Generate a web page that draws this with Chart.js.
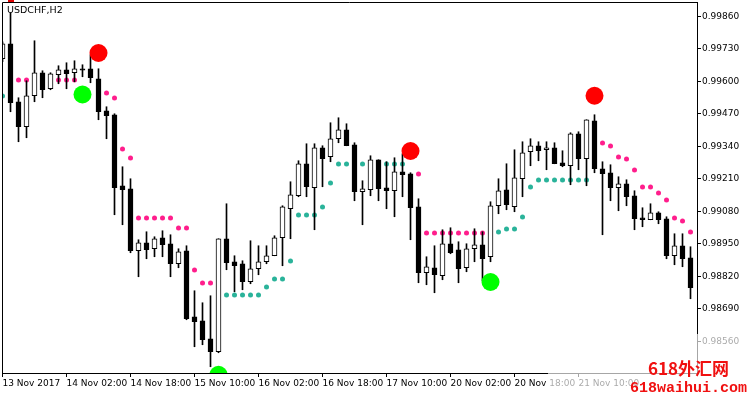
<!DOCTYPE html>
<html>
<head>
<meta charset="utf-8">
<script src="https://cdn.jsdelivr.net/npm/chart.js@4.4.0/dist/chart.umd.min.js"></script>
<style>
  html, body { margin: 0; padding: 0; background: #fff; }
  #wrap { width: 750px; height: 394px; }
</style>
</head>
<body>
<div id="wrap"><canvas id="chart" width="750" height="394"></canvas></div>
<script>
// USDCHF H2 bars
const symbol = 'USDCHF,H2';

const opens = [
  0.99691, 0.99751, 0.99519, 0.99419, 0.99543, 0.99635, 0.99571, 0.99627, 0.99647, 0.99635,
  0.99651, 0.99651, 0.99611, 0.99483, 0.99467, 0.99183, 0.99171, 0.98923, 0.98955, 0.98931,
  0.98975, 0.98951, 0.98871, 0.98923, 0.98659, 0.98643, 0.98571, 0.98519, 0.98971, 0.98879,
  0.98871, 0.98799, 0.98851, 0.98879, 0.98903, 0.98975, 0.99091, 0.99143, 0.99271, 0.99175,
  0.99335, 0.99299, 0.99371, 0.99407, 0.99347, 0.99159, 0.99167, 0.99287, 0.99175, 0.99163,
  0.99239, 0.99231, 0.99099, 0.98835, 0.98855, 0.98823, 0.98951, 0.98927, 0.98855, 0.98931,
  0.98947, 0.98899, 0.99103, 0.99167, 0.99099, 0.99211, 0.99319, 0.99343, 0.99327, 0.99335,
  0.99275, 0.99263, 0.99391, 0.99291, 0.99443, 0.99251, 0.99235, 0.99175, 0.99191, 0.99143,
  0.99055, 0.99047, 0.99075, 0.99051, 0.98903, 0.98943, 0.98895
];
const highs = [
  0.99759, 0.99875, 0.99535, 0.99603, 0.99763, 0.99643, 0.99635, 0.99663, 0.99675, 0.99683,
  0.99667, 0.99707, 0.99651, 0.99499, 0.99471, 0.99259, 0.99211, 0.98967, 0.98999, 0.98979,
  0.99003, 0.98987, 0.98931, 0.98943, 0.98763, 0.98715, 0.98743, 0.98971, 0.99111, 0.98903,
  0.98883, 0.98963, 0.98943, 0.98943, 0.98983, 0.99103, 0.99199, 0.99283, 0.99351, 0.99351,
  0.99343, 0.99435, 0.99455, 0.99431, 0.99355, 0.99203, 0.99303, 0.99287, 0.99279, 0.99295,
  0.99311, 0.99235, 0.99131, 0.98899, 0.98943, 0.99007, 0.99015, 0.98959, 0.98951, 0.99011,
  0.98999, 0.99119, 0.99211, 0.99271, 0.99327, 0.99359, 0.99371, 0.99359, 0.99359, 0.99355,
  0.99323, 0.99395, 0.99399, 0.99447, 0.99467, 0.99279, 0.99267, 0.99219, 0.99207, 0.99163,
  0.99095, 0.99111, 0.99079, 0.99059, 0.98991, 0.98991, 0.98939
];
const lows = [
  0.99679, 0.99479, 0.99359, 0.99375, 0.99519, 0.99535, 0.99567, 0.99591, 0.99571, 0.99599,
  0.99619, 0.99595, 0.99447, 0.99371, 0.99067, 0.99027, 0.98915, 0.98819, 0.98891, 0.98899,
  0.98899, 0.98819, 0.98855, 0.98647, 0.98539, 0.98547, 0.98459, 0.98515, 0.98847, 0.98759,
  0.98767, 0.98791, 0.98827, 0.98871, 0.98903, 0.98863, 0.98971, 0.99139, 0.99139, 0.99007,
  0.99179, 0.99279, 0.99355, 0.99343, 0.99123, 0.99027, 0.99143, 0.99123, 0.99091, 0.99059,
  0.99139, 0.98967, 0.98795, 0.98787, 0.98755, 0.98807, 0.98911, 0.98795, 0.98839, 0.98879,
  0.98803, 0.98879, 0.99071, 0.99087, 0.99079, 0.99139, 0.99263, 0.99283, 0.99247, 0.99271,
  0.99259, 0.99187, 0.99247, 0.99183, 0.99235, 0.98987, 0.99123, 0.99083, 0.99103, 0.99007,
  0.99019, 0.99047, 0.99031, 0.98891, 0.98867, 0.98859, 0.98731
];
const closes = [
  0.99751, 0.99515, 0.99419, 0.99543, 0.99635, 0.99567, 0.99631, 0.99647, 0.99631, 0.99651,
  0.99645, 0.99615, 0.99479, 0.99463, 0.99175, 0.99167, 0.98923, 0.98955, 0.98927, 0.98971,
  0.98947, 0.98871, 0.98919, 0.98651, 0.98639, 0.98567, 0.98519, 0.98971, 0.98875, 0.98863,
  0.98799, 0.98851, 0.98879, 0.98903, 0.98975, 0.99099, 0.99147, 0.99271, 0.99179, 0.99335,
  0.99291, 0.99371, 0.99407, 0.99343, 0.99159, 0.99171, 0.99287, 0.99171, 0.99163, 0.99239,
  0.99227, 0.99095, 0.98835, 0.98859, 0.98827, 0.98951, 0.98915, 0.98851, 0.98931, 0.98947,
  0.98891, 0.99103, 0.99163, 0.99107, 0.99215, 0.99315, 0.99343, 0.99323, 0.99335, 0.99271,
  0.99263, 0.99391, 0.99291, 0.99447, 0.99251, 0.99231, 0.99175, 0.99191, 0.99139, 0.99051,
  0.99047, 0.99075, 0.99047, 0.98903, 0.98943, 0.98891, 0.98775
];

// trailing stop dots (bar index + price)
const upperBars = [2, 3, 7, 8, 9, 13, 14, 15, 16, 17, 18, 19, 20, 21, 22, 23, 24, 25, 26,
  52, 53, 54, 55, 56, 57, 58, 59, 60, 75, 76, 77, 78, 79, 80, 81, 82, 83, 84, 85, 86];
const upperPrices = [0.99606, 0.99606, 0.99606, 0.99606, 0.99606, 0.99554, 0.99534, 0.99330, 0.99294,
  0.99054, 0.99054, 0.99054, 0.99054, 0.99054, 0.99014, 0.99014, 0.98846, 0.98794, 0.98794,
  0.99230, 0.98994, 0.98994, 0.98994, 0.98994, 0.98994, 0.98994, 0.98994, 0.98994,
  0.99354, 0.99342, 0.99298, 0.99290, 0.99246, 0.99178, 0.99178, 0.99154, 0.99126, 0.99054, 0.99042, 0.98998];
const lowerBars = [0, 28, 29, 30, 31, 32, 33, 34, 35, 36, 37, 38, 39, 40, 41, 42, 43, 44, 45, 46, 47, 48, 49, 50,
  62, 63, 64, 65, 66, 67, 68, 69, 70, 71, 72, 73];
const lowerPrices = [0.99542, 0.98746, 0.98746, 0.98746, 0.98746, 0.98746, 0.98778, 0.98810, 0.98810, 0.98882,
  0.99066, 0.99066, 0.99066, 0.99098, 0.99194, 0.99270, 0.99270, 0.99270, 0.99270, 0.99270, 0.99270, 0.99270,
  0.99270, 0.99270, 0.98998, 0.99010, 0.99010, 0.99058, 0.99178, 0.99206, 0.99206, 0.99206, 0.99206, 0.99206,
  0.99206, 0.99206];

// big signal circles
const sellBars = [12, 51, 74];
const sellPrices = [0.99714, 0.99322, 0.99543];
const buyBars = [10, 27, 61];
const buyPrices = [0.99548, 0.98427, 0.98798];

// axis labels
const tickBars = [0, 8, 16, 24, 32, 40, 48, 56, 64, 72];
const dateLabels = ['13 Nov 2017', '14 Nov 02:00', '14 Nov 18:00', '15 Nov 10:00', '16 Nov 02:00',
  '16 Nov 18:00', '17 Nov 10:00', '20 Nov 02:00', '20 Nov 18:00', '21 Nov 10:00'];
const priceTicks = [0.98560, 0.98690, 0.98820, 0.98950, 0.99080, 0.99210, 0.99340, 0.99470, 0.99600, 0.99730, 0.99860];

const bars = opens.map((o, i) => i);
const toPoints = (xs, ys) => xs.map((x, k) => ({ x: x, y: ys[k] }));

// frame, title and the site watermark
const decor = {
  id: 'decor',
  afterDraw(chart) {
    const ctx = chart.ctx;
    const a = chart.chartArea;
    ctx.save();
    ctx.strokeStyle = '#000';
    ctx.lineWidth = 1;
    ctx.beginPath();
    ctx.moveTo(a.left + 0.5, a.bottom);
    ctx.lineTo(a.left + 0.5, a.top + 0.5);
    ctx.lineTo(a.right, a.top + 0.5);
    ctx.stroke();

    ctx.fillStyle = '#e00000';
    ctx.fillRect(8, 0, 6, 2);
    ctx.fillStyle = '#000';
    ctx.font = '9.5px "DejaVu Sans"';
    ctx.textBaseline = 'alphabetic';
    ctx.fillText(symbol, 7, 13);

    ctx.fillStyle = 'rgba(255,255,255,0.65)';
    ctx.fillRect(548, 334, 202, 60);
    ctx.fillStyle = '#f01010';
    ctx.font = 'bold 17px "Noto Sans CJK SC"';
    ctx.fillText('618外汇网', 648, 375);
    ctx.font = 'bold 15px "Liberation Mono"';
    ctx.fillText('618waihui.com', 630, 392);
    ctx.restore();
  }
};

new Chart(document.getElementById('chart'), {
  data: {
    datasets: [
      {
        type: 'bar',
        data: bars.map(i => ({ x: i, y: [lows[i], highs[i]] })),
        backgroundColor: '#000',
        barThickness: 1,
        grouped: false,
        order: 2,
        clip: 0
      },
      {
        type: 'bar',
        data: bars.map(i => ({ x: i, y: [opens[i], closes[i]] })),
        backgroundColor: bars.map(i => closes[i] >= opens[i] ? '#fff' : '#000'),
        borderColor: '#000',
        borderWidth: 1,
        borderSkipped: false,
        barThickness: 5,
        grouped: false,
        order: 1,
        clip: 0
      },
      {
        type: 'scatter',
        data: toPoints(upperBars, upperPrices),
        backgroundColor: '#ff1e8c',
        borderWidth: 0,
        pointRadius: 2.5,
        order: 3
      },
      {
        type: 'scatter',
        data: toPoints(lowerBars, lowerPrices),
        backgroundColor: '#2ab39a',
        borderWidth: 0,
        pointRadius: 2.5,
        order: 3
      },
      {
        type: 'scatter',
        data: toPoints(sellBars, sellPrices),
        backgroundColor: '#ff0000',
        borderWidth: 0,
        pointRadius: 9,
        order: 0,
        clip: 0
      },
      {
        type: 'scatter',
        data: toPoints(buyBars, buyPrices),
        backgroundColor: '#00ff00',
        borderWidth: 0,
        pointRadius: 9,
        order: 0,
        clip: 0
      }
    ]
  },
  options: {
    responsive: false,
    animation: false,
    events: [],
    layout: { autoPadding: false, padding: { left: 2, top: 2, right: 0, bottom: 0 } },
    plugins: { legend: { display: false }, tooltip: { enabled: false } },
    scales: {
      x: {
        type: 'linear',
        position: 'bottom',
        offset: false,
        min: -0.0625,
        max: 86.8125,
        border: { color: '#000', width: 1 },
        grid: { offset: false, drawOnChartArea: false, drawTicks: true, tickLength: 4, color: '#000' },
        afterBuildTicks: s => { s.ticks = tickBars.map(v => ({ value: v })); },
        afterFit: s => { s.height = 21; s.paddingLeft = 0; s.paddingRight = 0; },
        ticks: {
          autoSkip: false,
          maxRotation: 0,
          align: 'start',
          padding: 1,
          color: '#000',
          font: { family: 'DejaVu Sans', size: 9 },
          callback: (v, k) => dateLabels[k]
        }
      },
      y: {
        type: 'linear',
        position: 'right',
        min: 0.98434,
        max: 0.99918,
        border: { color: '#000', width: 1 },
        grid: { drawOnChartArea: false, drawTicks: true, tickLength: 4, color: '#000' },
        afterBuildTicks: s => { s.ticks = priceTicks.map(v => ({ value: v })); },
        afterFit: s => { s.width = 53; s.paddingTop = 0; s.paddingBottom = 0; },
        ticks: {
          padding: 1,
          color: '#000',
          font: { family: 'DejaVu Sans', size: 9 },
          callback: v => v.toFixed(5)
        }
      }
    }
  },
  plugins: [decor]
});
</script>
</body>
</html>
